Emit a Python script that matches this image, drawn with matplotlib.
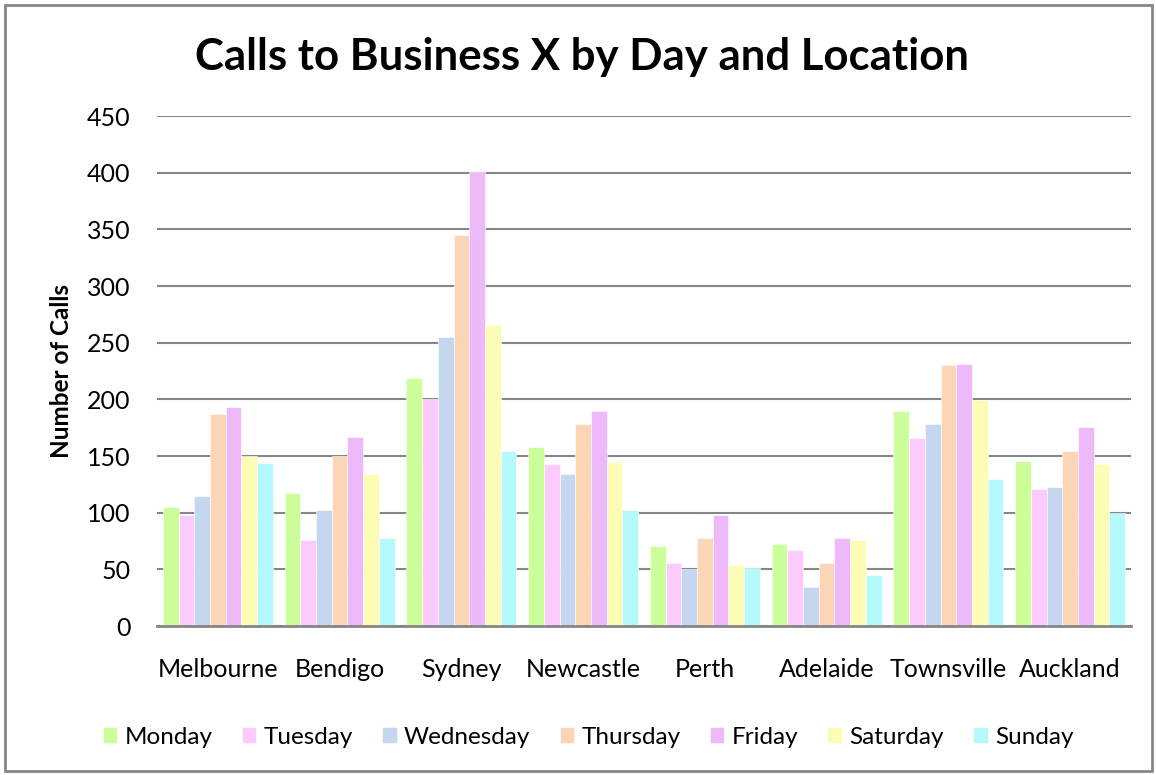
import numpy as np
import matplotlib.pyplot as plt
from matplotlib.patches import Rectangle

locations = ["Melbourne", "Bendigo", "Sydney", "Newcastle", "Perth",
             "Adelaide", "Townsville", "Auckland"]
days = ["Monday", "Tuesday", "Wednesday", "Thursday", "Friday",
        "Saturday", "Sunday"]

monday = [105, 117, 219, 158, 71, 72, 190, 146]
tuesday = [98, 76, 200, 143, 56, 67, 166, 121]
wednesday = [115, 102, 255, 134, 50, 34, 178, 123]
thursday = [187, 150, 345, 178, 78, 56, 230, 154]
friday = [193, 167, 401, 190, 98, 78, 231, 176]
saturday = [150, 134, 266, 145, 54, 76, 199, 143]
sunday = [144, 78, 154, 102, 51, 45, 130, 100]

series = [monday, tuesday, wednesday, thursday, friday, saturday, sunday]
colors = ["#ccff99", "#fccbfc", "#c5d7ef", "#fbd5b5", "#eeb9f8",
          "#fdfcb5", "#b5f9fd"]

plt.rcParams['font.family'] = ['Lato', 'DejaVu Sans']

W, H = 1156, 775
fig = plt.figure(figsize=(W / 100, H / 100), dpi=100)
fig.patches.append(Rectangle((5 / W, 4 / H), 1147 / W, 766 / H,
                             transform=fig.transFigure, fill=False,
                             edgecolor="#868686", linewidth=2))

ax = fig.add_axes([157 / W, 1 - 626 / H, (1131 - 157) / W, (626 - 116) / H])

x = np.arange(len(locations))
w = 1 / 7.75
for i, (vals, c, d) in enumerate(zip(series, colors, days)):
    ax.bar(x + (i - 3) * w, vals, width=w, color=c, edgecolor="white",
           linewidth=0.4, label=d, zorder=3)

ax.set_xlim(-0.5, len(locations) - 0.5)
ax.set_ylim(0, 450)
ax.set_yticks(np.arange(0, 451, 50))
ax.set_xticks(x)
ax.set_xticklabels(locations)
ax.yaxis.grid(True, color="#868686", linewidth=1.5, zorder=0)
ax.tick_params(axis="both", length=0)
ax.tick_params(axis="x", pad=23, labelsize=18)
ax.tick_params(axis="y", pad=19, labelsize=18)
for s in ["top", "right", "left"]:
    ax.spines[s].set_visible(False)
ax.spines["bottom"].set_color("#868686")
ax.spines["bottom"].set_linewidth(2)
ax.spines["bottom"].set_zorder(4)

ax.set_ylabel("Number of Calls", fontsize=17.5, fontweight="bold", labelpad=10)
fig.text(582 / W, 1 - 57 / H, "Calls to Business X by Day and Location",
         fontsize=31.5, fontweight="bold", ha="center", va="center")

fig.legend(loc="center", bbox_to_anchor=(588 / W, 1 - 737 / H), ncol=7,
           frameon=False, fontsize=17.5, handlelength=0.6, handleheight=0.6,
           handletextpad=0.3, columnspacing=1.2)

fig.savefig("out.png", dpi=100)
